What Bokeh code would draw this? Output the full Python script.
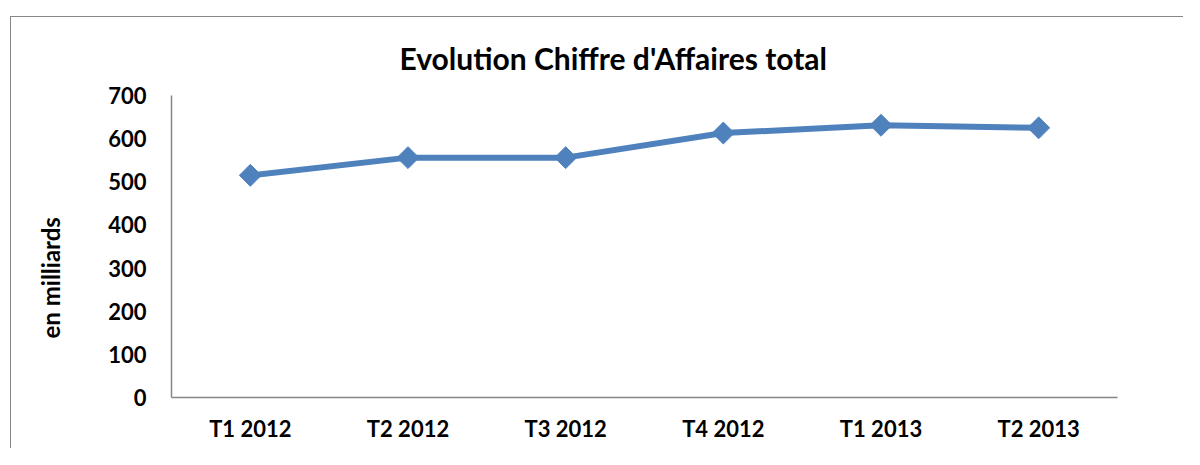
import numpy as np
from bokeh.plotting import figure
from bokeh.models import FixedTicker, Range1d, FactorRange, Title
from bokeh.embed import file_html
from bokeh.resources import INLINE

categories = ["T1 2012", "T2 2012", "T3 2012", "T4 2012", "T1 2013", "T2 2013"]
ca_values = [515, 556, 556, 613, 631, 625]
y_ticks = [0, 100, 200, 300, 400, 500, 600, 700]
title_text = "Evolution Chiffre d'Affaires total"
y_label_text = "en milliards"

BLUE = "#4F81BD"
GREY = "#868686"
FONT = "Lato"

p = figure(
    x_range=FactorRange(*categories),
    y_range=Range1d(0, 700),
    width=1173, height=432,
    output_backend="svg", toolbar_location=None,
    min_border_left=160, min_border_right=67,
    min_border_top=78, min_border_bottom=52,
)
p.styles = {"margin-left": "10px", "margin-top": "16px",
            "border-top": "1px solid #878787", "border-left": "1px solid #878787"}

p.line(categories, ca_values, line_width=6, color=BLUE)
p.scatter(categories, ca_values, marker="square", size=15.5, angle=np.pi / 4,
          color=BLUE)

p.xgrid.visible = False
p.ygrid.visible = False
p.outline_line_color = None
p.background_fill_color = "white"
p.border_fill_color = "white"

for ax in (p.xaxis[0], p.yaxis[0]):
    ax.axis_line_color = GREY
    ax.axis_line_width = 1.5
    ax.major_tick_line_color = None
    ax.minor_tick_line_color = None
    ax.major_tick_out = 0
    ax.major_tick_in = 0
    ax.minor_tick_out = 0
    ax.major_label_text_font = FONT
    ax.major_label_text_font_style = "bold"
    ax.major_label_text_font_size = "22px"
    ax.major_label_text_color = "black"

p.yaxis.ticker = FixedTicker(ticks=y_ticks)
p.yaxis.major_label_standoff = 25
p.xaxis.major_label_standoff = 17

p.title = Title(text=title_text, align="left", offset=228, standoff=40,
                text_font=FONT, text_font_style="bold", text_font_size="30px",
                text_color="black")

spacer = Title(text=" ", standoff=14, text_font_size="1px")
p.add_layout(spacer, "left")

ylab = Title(text=y_label_text, align="left", vertical_align="top", offset=59,
             standoff=44, text_font=FONT, text_font_style="bold",
             text_font_size="24px", text_color="black")
p.add_layout(ylab, "left")

open("out.html", "w").write(file_html(p, INLINE))
